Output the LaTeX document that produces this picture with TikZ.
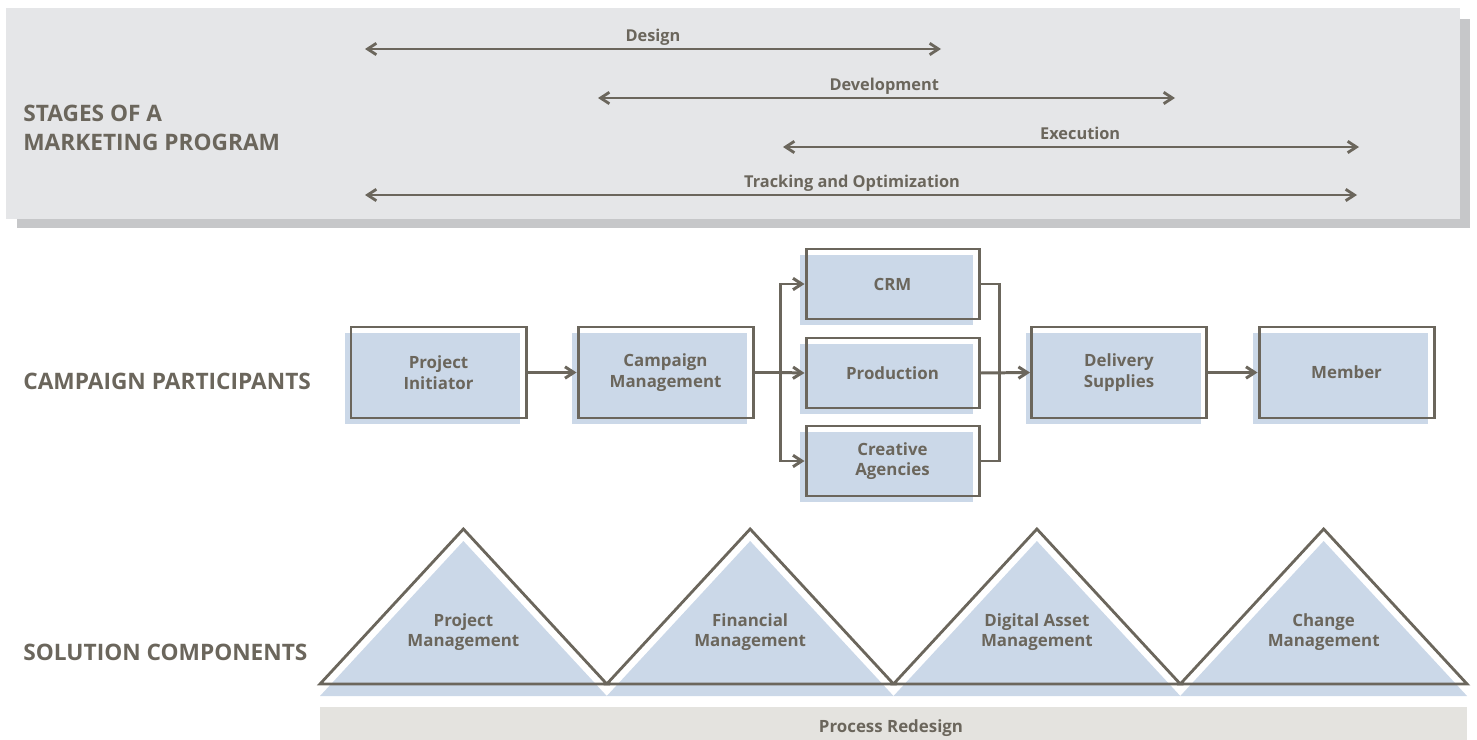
\documentclass[tikz,border=0pt]{standalone}
\usepackage{fontspec}
\setmainfont{Open Sans}
\usepackage{tikz}
\usetikzlibrary{positioning,arrows.meta,shadows,calc}
\definecolor{palText}{HTML}{6B665C}
\definecolor{palBlueLt}{HTML}{CBD8E8}
\definecolor{palPanel}{HTML}{E5E6E8}
\definecolor{palPanelSh}{HTML}{C6C7C9}
\definecolor{palBar}{HTML}{E4E3DF}
\tikzset{
  headlabel/.style={anchor=west, align=left, inner sep=0pt, text=palText,
                    font=\fontsize{12.9}{16.5}\selectfont\bfseries},
  stagelabel/.style={above, inner sep=1pt, text=palText,
                     text height=1.55ex, text depth=0.45ex,
                     font=\fontsize{9.3}{11}\selectfont\bfseries},
  partbox/.style={draw=palText, line width=1.7pt, minimum width=35mm,
                  minimum height=18.2mm, align=center, text=palText,
                  font=\fontsize{9.6}{11.8}\selectfont\bfseries,
                  general shadow={fill=palBlueLt, shadow xshift=-1.2mm,
                                  shadow yshift=-1.2mm}},
  smallbox/.style={partbox, minimum width=34.6mm, minimum height=14mm},
  complabel/.style={align=center, text=palText,
                    font=\fontsize{9.6}{11.8}\selectfont\bfseries},
  stagearrow/.style={{Straight Barb[length=5pt,width=6.5pt]}-{Straight Barb[length=5pt,width=6.5pt]},
                     line width=1.6pt, palText},
  flowline/.style={line width=1.7pt, palText},
  flowarrow/.style={flowline, -{Straight Barb[length=5pt,width=6.5pt]}},
}

\begin{document}
\begin{tikzpicture}[x=0.2mm, y=-0.2mm]
\useasboundingbox (0,0) rectangle (1477,740);

%% Stages panel
\fill[palPanelSh] (17,19) rectangle (1470,228);
\fill[palPanel]   (6,8)   rectangle (1460,219);
\node[headlabel] (stages) at (23,128) {STAGES OF A\\MARKETING PROGRAM};

\foreach \name/\xa/\xb/\y/\p/\lbl in {design/365/941/49/0.5/Design,
    devel/598/1175/98/0.496/Development,
    exec/783/1359/147/0.516/Execution,
    track/365/1357/195/0.491/Tracking and Optimization} {
  \coordinate (\name-l) at (\xa,\y);
  \coordinate (\name-r) at (\xb,\y);
  \draw[stagearrow] (\name-l) -- node[stagelabel, pos=\p] {\lbl} (\name-r);
}

%% Campaign participants
\node[headlabel] (partic) at (23,381) {CAMPAIGN PARTICIPANTS};

\node[partbox]  (init)   at (438.5,372.5) {Project\\Initiator};
\node[partbox]  (camp)   at (665.5,372.5) {Campaign\\Management};
\node[smallbox] (crm)    at (892.5,284)   {CRM};
\node[smallbox] (prod)   at (892.5,373)   {Production};
\node[smallbox] (creat)  at (892.5,461)   {Creative\\Agencies};
\node[partbox]  (deliv)  at (1119,372.5)  {Delivery\\Supplies};
\node[partbox]  (member) at (1346.5,372.5) {Member};

\coordinate (split) at (780,372.5);
\coordinate (join)  at (999,372.5);

\draw[flowarrow] (init) -- (camp);
\draw[flowline]  (camp) -- (split);
\draw[flowarrow] (split) |- (crm.west);
\draw[flowarrow] (split) -- (prod.west);
\draw[flowarrow] (split) |- (creat.west);
\draw[flowline]  (crm.east) -| (join) |- (creat.east);
\draw[flowarrow] (prod.east) -- (deliv.west);
\draw[flowarrow] (deliv) -- (member);

%% Solution components
\node[headlabel] (solut) at (23,652) {SOLUTION COMPONENTS};

\foreach \i/\lbl in {0/{Project\\Management}, 1/{Financial\\Management},
    2/{Digital Asset\\Management}, 3/{Change\\Management}} {
  \pgfmathsetmacro{\xl}{320+286.75*\i}
  \fill[palBlueLt] (\xl,696) -- ++(143.4,-155) -- ++(143.4,155) -- cycle;
  \draw[palText, line width=1.6pt, line join=miter]
    (\xl,684) -- ++(143.4,-155) -- ++(143.4,155) -- cycle;
  \node[complabel] (comp\i) at (\xl+143.4,632) {\lbl};
}

\fill[palBar] (320,707) rectangle (1467,742);
\node[complabel] (redesign) at (891,728) {Process Redesign};
\end{tikzpicture}
\end{document}
